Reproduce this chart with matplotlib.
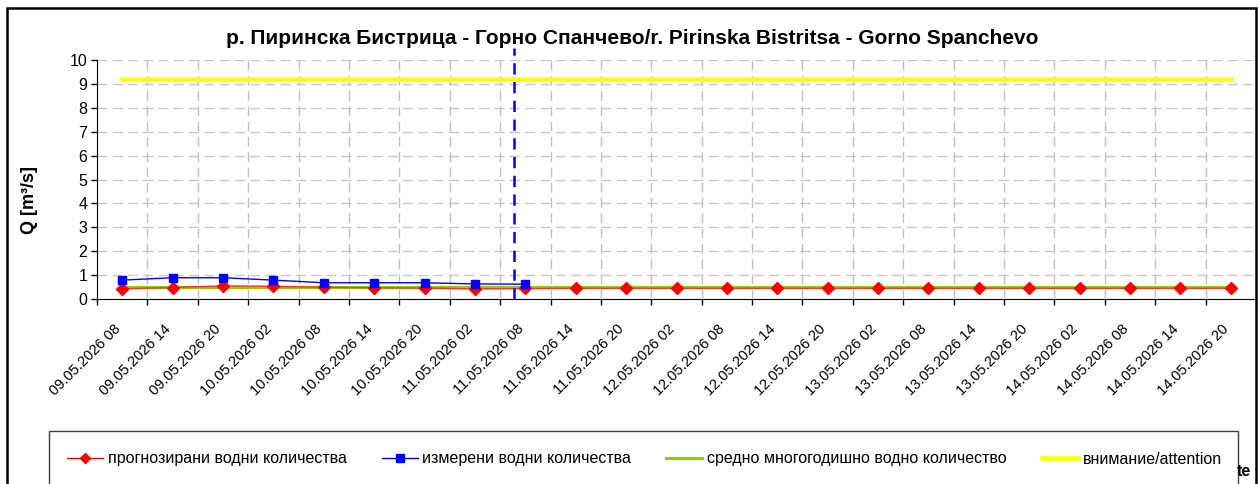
import matplotlib.pyplot as plt
import numpy as np
from matplotlib.patches import Rectangle
from matplotlib.lines import Line2D
from matplotlib.transforms import ScaledTranslation

plt.rcParams['font.family'] = ['Liberation Sans', 'DejaVu Sans']

# data
labels = ['09.05.2026 08', '09.05.2026 14', '09.05.2026 20',
          '10.05.2026 02', '10.05.2026 08', '10.05.2026 14', '10.05.2026 20',
          '11.05.2026 02', '11.05.2026 08', '11.05.2026 14', '11.05.2026 20',
          '12.05.2026 02', '12.05.2026 08', '12.05.2026 14', '12.05.2026 20',
          '13.05.2026 02', '13.05.2026 08', '13.05.2026 14', '13.05.2026 20',
          '14.05.2026 02', '14.05.2026 08', '14.05.2026 14', '14.05.2026 20']
prognoza = [0.43, 0.48, 0.55, 0.53, 0.49, 0.47, 0.46, 0.42, 0.44,
            0.45, 0.45, 0.45, 0.45, 0.45, 0.45, 0.45, 0.45, 0.45,
            0.45, 0.45, 0.45, 0.45, 0.45]
izmereni = [0.79, 0.89, 0.89, 0.79, 0.68, 0.68, 0.68, 0.63, 0.62]
sredno = 0.49
vnimanie = 9.19
sega = 7.77  # momentna pozicija (indeks kategorija)

title = 'р. Пиринска Бистрица - Горно Спанчево/r. Pirinska Bistritsa - Gorno Spanchevo'
leg_names = ['прогнозирани водни количества', 'измерени водни количества',
             'средно многогодишно водно количество', 'внимание/attention']

W, H = 1260, 484
fig = plt.figure(figsize=(W / 100, H / 100), dpi=100)
ax = fig.add_axes([97 / W, (H - 299) / H, (1256 - 97) / W, 239 / H])

n = len(labels)
x = np.arange(n) + 0.5

# grid
for yy in range(1, 11):
    ax.plot([0, n], [yy, yy], color='#c8c8c8', lw=1, dashes=(7, 4), zorder=0)
for xx in range(1, n):
    ax.plot([xx, xx], [0, 10], color='#c0c0c0', lw=1, dashes=(7, 4), zorder=0)

ax.plot([x[0], x[-1]], [vnimanie, vnimanie], color='#ffff00', lw=3.3, zorder=2)
ax.plot([x[0], x[-1]], [sredno, sredno], color='#99cc00', lw=2.3, zorder=2)
ax.plot(x, prognoza, color='#ff3030', lw=1, marker='D', ms=6.3, mfc='red',
        mec='red', zorder=3)
ax.plot(x[:len(izmereni)], izmereni, color='blue', lw=1, marker='s', ms=6,
        mfc='blue', mec='blue', zorder=4)
ax.plot([sega + 0.5, sega + 0.5], [0, 10.5], color='blue', lw=1.8,
        dashes=(4.5, 3), zorder=5, clip_on=False)

ax.set_xlim(0, n)
ax.set_ylim(0, 10)
ax.set_yticks(range(0, 11))
ax.tick_params(axis='y', labelsize=11.5, length=4, width=1, pad=3)
ax.set_xticks(range(0, n + 1))
ax.set_xticklabels([])
ax.tick_params(axis='x', which='major', length=4, width=1)
ax.set_xticks(x, minor=True)
ax.set_xticklabels(labels, minor=True, rotation=45, ha='right', va='top',
                   rotation_mode='anchor', fontsize=10.5)
ax.tick_params(axis='x', which='minor', length=0, pad=15)
shift = ScaledTranslation(-9 / 100, -2 / 100, fig.dpi_scale_trans)
for t in ax.get_xticklabels(minor=True):
    t.set_transform(t.get_transform() + shift)
for s in ['top', 'right']:
    ax.spines[s].set_visible(False)

fig.text(30 / W, 1 - 200 / H, 'Q [m³/s]', rotation=90, ha='center',
         va='center', fontsize=13, fontweight='bold')
fig.text(632 / W, 1 - 38 / H, title, ha='center', va='center', fontsize=15,
         fontweight='bold')

# okvir
fig.add_artist(Rectangle((7 / W, -0.1), (1256 - 7) / W, 1.1 - 8 / H,
                         transform=fig.transFigure, fill=False, lw=1.8,
                         ec='black'))
fig.text(1251 / W, 1 - 472 / H, 'te', ha='right', va='center', fontsize=11.5,
         fontweight='bold')
fig.add_artist(Rectangle((49 / W, -0.1), (1238 - 49) / W, 0.1 + (H - 431) / H,
                         transform=fig.transFigure, fc='white', lw=1,
                         ec='#404040', zorder=3))

handles = [Line2D([], [], color='red', lw=1, marker='D', ms=5.5, mec='red'),
           Line2D([], [], color='blue', lw=1, marker='s', ms=5.5, mec='blue'),
           Line2D([], [], color='#99cc00', lw=2.3),
           Line2D([], [], color='#ffff00', lw=3.3)]
leg = fig.legend(handles, leg_names, loc='center left',
                 bbox_to_anchor=(67 / W, 1 - 459 / H), ncol=4, frameon=False,
                 fontsize=11.5, handlelength=2.25, handletextpad=0.3,
                 columnspacing=2.2, borderpad=0, borderaxespad=0)
leg.set_zorder(4)

fig.savefig('out.png', dpi=100)
